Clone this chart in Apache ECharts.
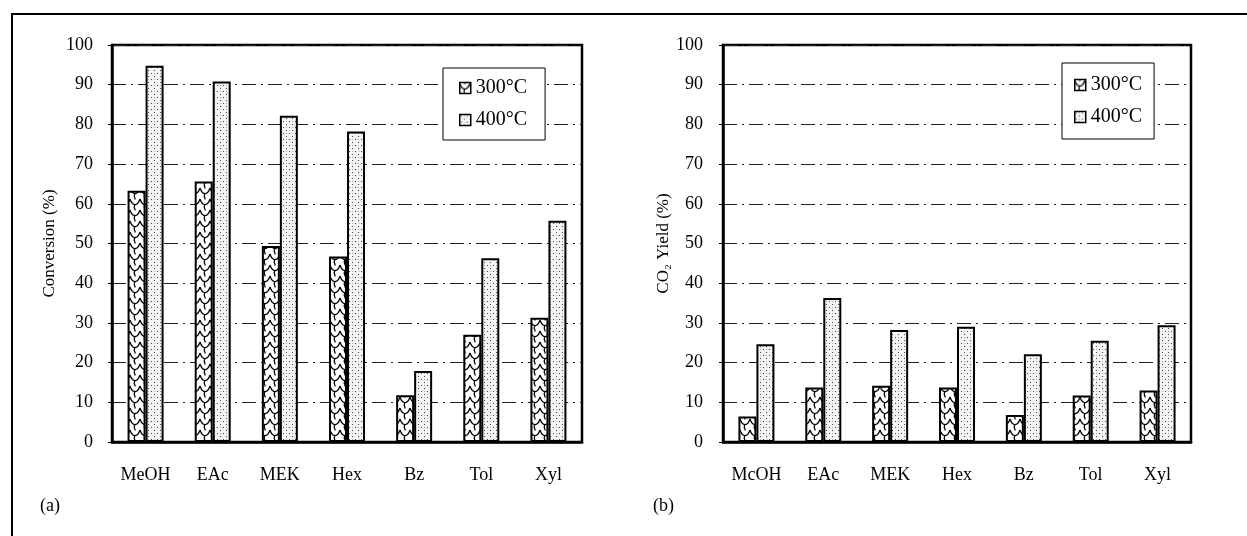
<!DOCTYPE html>
<html>
<head>
<meta charset="utf-8">
<script src="https://cdn.jsdelivr.net/npm/echarts@6/dist/echarts.min.js"></script>
<style>
html,body{margin:0;padding:0;background:#fff;}
#c{width:1247px;height:536px;}
</style>
</head>
<body>
<div id="c"></div>
<script>
// ---- data ----
var categoriesA = ['MeOH', 'EAc', 'MEK', 'Hex', 'Bz', 'Tol', 'Xyl'];
var categoriesB = ['McOH', 'EAc', 'MEK', 'Hex', 'Bz', 'Tol', 'Xyl'];
var seriesNames = ['300°C', '400°C'];
var conversion300 = [63.3, 65.6, 49.4, 46.7, 11.8, 27.0, 31.3];
var conversion400 = [94.8, 90.8, 82.2, 78.2, 17.9, 46.3, 55.7];
var co2Yield300 = [6.4, 13.7, 14.2, 13.7, 6.8, 11.7, 13.0];
var co2Yield400 = [24.6, 36.3, 28.2, 29.0, 22.1, 25.5, 29.4];
var yTicks = { min: 0, max: 100, interval: 10 };

// ---- patterns ----
function hatchPattern() {
  var c = document.createElement('canvas');
  c.width = 10; c.height = 11;
  var g = c.getContext('2d');
  g.fillStyle = '#fff'; g.fillRect(0, 0, 10, 11);
  g.strokeStyle = '#000'; g.lineWidth = 1.3;
  g.beginPath();
  g.moveTo(0, 1); g.quadraticCurveTo(2, 7, 5, 6.5); g.quadraticCurveTo(8, 7, 10, 1);
  g.moveTo(5, 6.5); g.quadraticCurveTo(3.5, 9, 5, 11);
  g.moveTo(5, 0); g.lineTo(5, 1.5);
  g.stroke();
  return c;
}
function dotPattern() {
  var c = document.createElement('canvas');
  c.width = 6; c.height = 6;
  var g = c.getContext('2d');
  g.fillStyle = '#f4f4f4'; g.fillRect(0, 0, 6, 6);
  g.fillStyle = '#444';
  g.fillRect(1, 1, 1, 1);
  g.fillRect(4, 4, 1, 1);
  g.fillStyle = '#aaa';
  g.fillRect(4, 1, 1, 1);
  return c;
}
var pat300 = { image: hatchPattern(), repeat: 'repeat' };
var pat400 = { image: dotPattern(), repeat: 'repeat' };

var FONT = "'Liberation Serif', 'DejaVu Serif', serif";

function yAxis(gridIndex, name, nameGap, labelMargin) {
  return {
    type: 'value', gridIndex: gridIndex,
    min: yTicks.min, max: yTicks.max, interval: yTicks.interval,
    name: name, nameLocation: 'middle', nameGap: nameGap,
    nameTextStyle: { fontFamily: FONT, fontSize: 17, color: '#000' },
    axisLine: { show: true, lineStyle: { color: '#000', width: 2.5 } },
    axisTick: { show: true, length: 4, lineStyle: { color: '#000', width: 1 } },
    axisLabel: { fontFamily: FONT, fontSize: 18, color: '#000', margin: labelMargin },
    splitLine: { show: true, lineStyle: { color: '#222', width: 1, type: [14, 5, 2, 5] } }
  };
}
function xAxis(gridIndex, cats) {
  return {
    type: 'category', gridIndex: gridIndex, data: cats,
    axisLine: { show: true, lineStyle: { color: '#000', width: 2.5 } },
    axisTick: { show: false },
    axisLabel: { fontFamily: FONT, fontSize: 18, color: '#000', margin: 24 }
  };
}
function bar(name, data, idx, pattern) {
  return {
    name: name, type: 'bar', xAxisIndex: idx, yAxisIndex: idx, data: data,
    barWidth: 18, barGap: '0%',
    itemStyle: { color: pattern, borderColor: '#000', borderWidth: 2 },
    emphasis: { disabled: true }
  };
}
function legend(left, top, padding) {
  return {
    data: seriesNames, orient: 'vertical', left: left, top: top, icon: 'rect',
    padding: padding, itemGap: 12, itemWidth: 11, itemHeight: 11,
    backgroundColor: '#fff', borderColor: '#000', borderWidth: 1,
    textStyle: { fontFamily: FONT, fontSize: 20, color: '#000' },
    itemStyle: { borderColor: '#000', borderWidth: 1.5 },
    selectedMode: false
  };
}

var chart = echarts.init(document.getElementById('c'), null, { renderer: 'canvas' });
chart.setOption({
  animation: false,
  backgroundColor: '#fff',
  grid: [
    { left: 112, top: 45, width: 470, height: 397, show: true, borderColor: '#000', borderWidth: 2.5, backgroundColor: 'transparent' },
    { left: 723, top: 45, width: 468, height: 397, show: true, borderColor: '#000', borderWidth: 2.5, backgroundColor: 'transparent' }
  ],
  xAxis: [xAxis(0, categoriesA), xAxis(1, categoriesB)],
  yAxis: [yAxis(0, 'Conversion (%)', 54, 19), yAxis(1, 'CO\u2082 Yield (%)', 33, 20)],
  legend: [legend(443, 68, [10, 18, 10, 16]), legend(1062, 63, [12, 12, 12, 12])],
  series: [
    bar(seriesNames[0], conversion300, 0, pat300),
    bar(seriesNames[1], conversion400, 0, pat400),
    bar(seriesNames[0], co2Yield300, 1, pat300),
    bar(seriesNames[1], co2Yield400, 1, pat400)
  ],
  graphic: [
    { type: 'line', shape: { x1: 11, y1: 14, x2: 1247, y2: 14 }, style: { stroke: '#000', lineWidth: 2 } },
    { type: 'line', shape: { x1: 12, y1: 14, x2: 12, y2: 536 }, style: { stroke: '#000', lineWidth: 2 } },
    { type: 'text', left: 40, top: 497, style: { text: '(a)', font: "18px 'Liberation Serif', serif", fill: '#000' } },
    { type: 'text', left: 653, top: 497, style: { text: '(b)', font: "18px 'Liberation Serif', serif", fill: '#000' } }
  ]
});
</script>
</body>
</html>
